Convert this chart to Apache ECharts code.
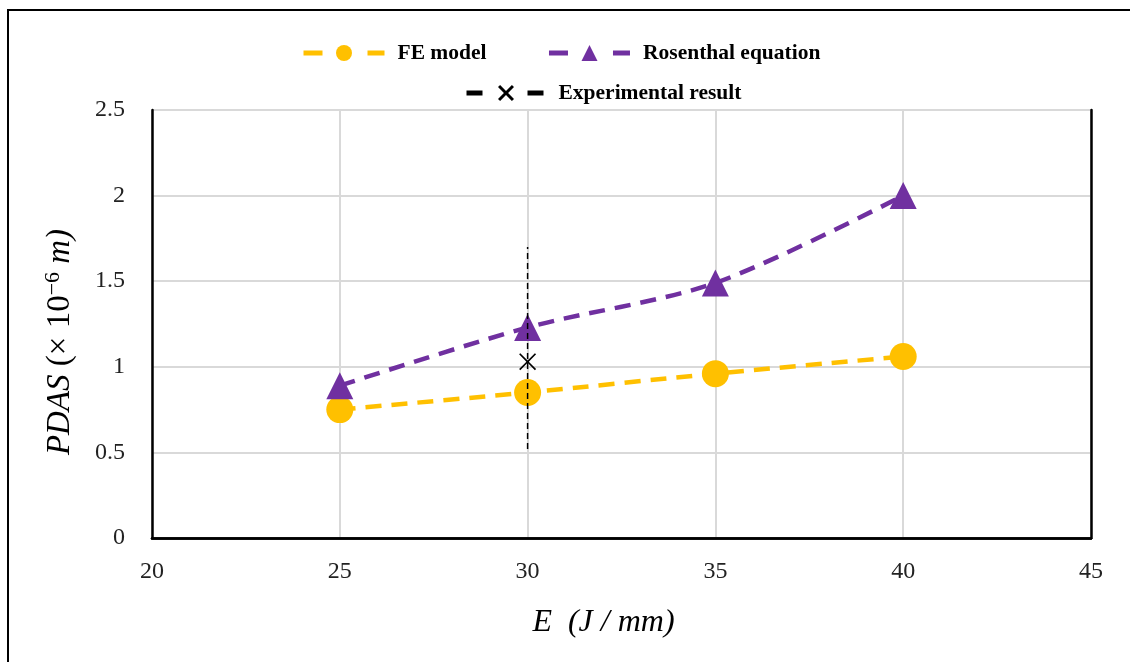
<!DOCTYPE html>
<html><head><meta charset="utf-8">
<script src="https://cdn.jsdelivr.net/npm/echarts@6/dist/echarts.min.js"></script>
<style>html,body{margin:0;padding:0;background:#fff}#c{width:1130px;height:662px}</style>
</head><body><div id="c"></div>
<script>
var energy = [25, 30, 35, 40];
var feModel = [0.75, 0.85, 0.96, 1.06];
var rosenthal = [0.89, 1.23, 1.49, 2.0];
var expX = [30];
var expValue = [1.03];
var expLow = [0.52];
var expHigh = [1.70];
var xTicks = [20, 25, 30, 35, 40, 45];
var yTicks = [0, 0.5, 1, 1.5, 2, 2.5];

var chart = echarts.init(document.getElementById('c'));
var serif = '"Liberation Serif", "DejaVu Serif", serif';
var pair = function (xs, ys) { return xs.map(function (x, i) { return [x, ys[i]]; }); };
var errData = [];
expX.forEach(function (x, i) { errData.push([x, expLow[i]]); errData.push([x, expHigh[i]]); });
var xThin = 'path://M0,0.7L0.7,0L5,4.3L9.3,0L10,0.7L5.7,5L10,9.3L9.3,10L5,5.7L0.7,10L0,9.3L4.3,5Z';
var xBold = 'path://M0,1.3L1.3,0L5,3.7L8.7,0L10,1.3L6.3,5L10,8.7L8.7,10L5,6.3L1.3,10L0,8.7L3.7,5Z';
var legendText = { fontFamily: serif, fontWeight: 'bold', fontSize: 21.5, color: '#000', padding: [0, 0, 0, 8] };
var frameLine = { show: true, lineStyle: { color: '#000', width: 2.5 } };

chart.setOption({
  animation: false,
  backgroundColor: '#fff',
  graphic: [{ type: 'rect', shape: { x: 8, y: 10, width: 1200, height: 700 }, style: { fill: 'none', stroke: '#000', lineWidth: 2 }, silent: true }],
  legend: [{
    data: [
      { name: 'FE model', lineStyle: { width: 5, type: [19, 45] } },
      { name: 'Rosenthal equation', lineStyle: { width: 5, type: [19, 45] } }
    ],
    top: 42, left: 301, itemWidth: 81, itemHeight: 20, itemGap: 60, padding: 0,
    textStyle: legendText
  }, {
    data: [{ name: 'Experimental result', lineStyle: { width: 5, type: [16, 45], color: '#000' } }],
    top: 82, left: 464, itemWidth: 79, itemHeight: 20, padding: 0,
    textStyle: legendText
  }],
  grid: { left: 152, right: 39, top: 110, bottom: 124 },
  xAxis: [{
    type: 'value', min: xTicks[0], max: xTicks[xTicks.length - 1], interval: 5,
    axisLine: frameLine, axisTick: { show: false },
    axisLabel: { fontFamily: serif, fontSize: 24, color: '#222', margin: 22 },
    splitLine: { lineStyle: { color: '#d9d9d9', width: 2 } },
    name: 'E  (J / mm)', nameLocation: 'middle', nameGap: 69,
    nameTextStyle: { fontFamily: serif, fontStyle: 'italic', fontSize: 32, color: '#000', padding: [0, 36, 0, 0] }
  }, {
    type: 'value', position: 'top', min: xTicks[0], max: xTicks[xTicks.length - 1], interval: 5,
    axisLine: frameLine, axisTick: { show: false }, axisLabel: { show: false }, splitLine: { show: false }
  }],
  yAxis: [{
    type: 'value', min: yTicks[0], max: yTicks[yTicks.length - 1], interval: 0.5,
    axisLine: frameLine, axisTick: { show: false },
    axisLabel: { fontFamily: serif, fontSize: 24, color: '#222', margin: 27 },
    splitLine: { lineStyle: { color: '#d9d9d9', width: 2 } },
    name: '{i|PDAS} {n|(× 10}{s|−6}{i| m)}', nameLocation: 'middle', nameGap: 74, nameRotate: 90,
    nameTextStyle: { fontFamily: serif, fontSize: 33, color: '#000', padding: [0, 36, 0, 0],
      rich: { i: { fontFamily: serif, fontStyle: 'italic', fontSize: 33 }, n: { fontFamily: serif, fontSize: 33 }, s: { fontFamily: serif, fontSize: 22, verticalAlign: 'top', padding: [0, 0, 14, 0] } } }
  }, {
    type: 'value', position: 'right', min: yTicks[0], max: yTicks[yTicks.length - 1], interval: 0.5,
    axisLine: frameLine, axisTick: { show: false }, axisLabel: { show: false }, splitLine: { show: false }
  }],
  series: [{
    name: 'FE model', type: 'line', data: pair(energy, feModel), smooth: 0.3,
    symbol: 'circle', symbolSize: 27, itemStyle: { color: '#ffc000' },
    lineStyle: { color: '#ffc000', width: 4.5, type: [16, 10] }, z: 3
  }, {
    name: 'Rosenthal equation', type: 'line', data: pair(energy, rosenthal), smooth: 0.3,
    symbol: 'triangle', symbolSize: 27, itemStyle: { color: '#7030a0' },
    lineStyle: { color: '#7030a0', width: 4.5, type: [16, 10] }, z: 3
  }, {
    name: 'errorbar', type: 'line', data: errData, symbol: 'none',
    lineStyle: { color: '#000', width: 1.5, type: [6, 4] }, z: 4
  }, {
    name: 'expPoint', type: 'line', data: pair(expX, expValue),
    symbol: xThin, symbolSize: 17, showSymbol: true, itemStyle: { color: '#000' },
    lineStyle: { color: '#000', width: 5 }, z: 5
  }, {
    name: 'Experimental result', type: 'line', data: [],
    symbol: xBold, symbolSize: 16, itemStyle: { color: '#000' },
    lineStyle: { color: '#000', width: 5 }
  }]
});
</script></body></html>
